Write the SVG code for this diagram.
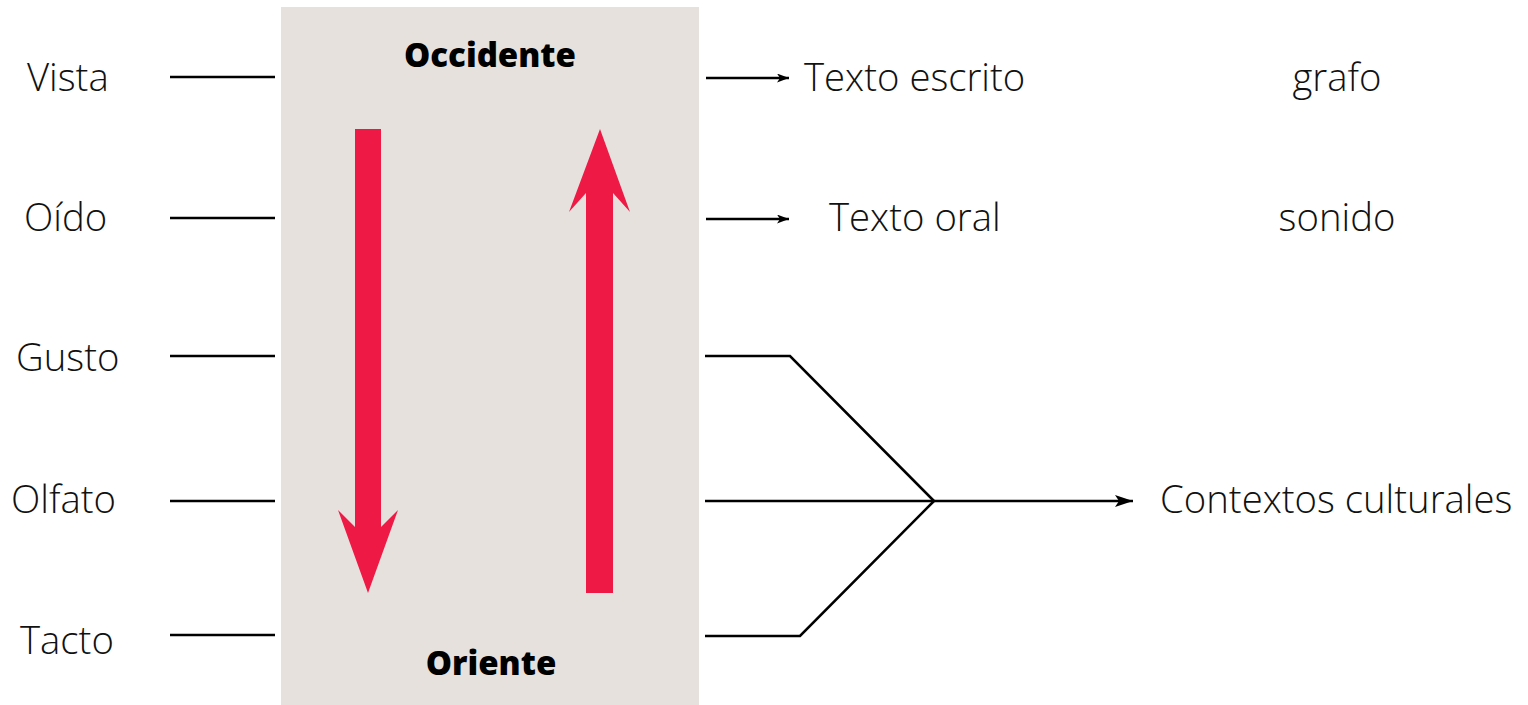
<svg xmlns="http://www.w3.org/2000/svg" width="1528" height="705" viewBox="0 0 1528 705">
<defs>
<style>
.lbl{font-family:"Open Sans","Noto Sans",sans-serif;font-weight:300;font-size:38.3px;fill:#111}
.hd{font-family:"Open Sans","Noto Sans",sans-serif;font-weight:800;font-size:33px;fill:#000}
.ln{stroke:#000;stroke-width:2.5;fill:none}
.red{fill:#EE1A45}
</style>
<marker id="ah" viewBox="0 0 12 9" refX="12" refY="4.5" markerWidth="12" markerHeight="9" markerUnits="userSpaceOnUse" orient="auto">
<path d="M0,0 L12,4.5 L0,9 L3,4.5 Z" fill="#000"/>
</marker>
<marker id="ah2" viewBox="0 0 18 12" refX="18" refY="6" markerWidth="18" markerHeight="12" markerUnits="userSpaceOnUse" orient="auto">
<path d="M0,0 L18,6 L0,12 L4,6 Z" fill="#000"/>
</marker>
</defs>
<rect width="1528" height="705" fill="#fff"/>
<g id="panel">
<rect x="281" y="7" width="418" height="698" fill="#E6E1DD"/>
<text class="hd" x="490" y="67" text-anchor="middle">Occidente</text>
<text class="hd" x="491" y="675" text-anchor="middle">Oriente</text>
<path class="red" d="M355,129 H381 V527 L398,510 L368,593 L338,510 L355,527 Z"/>
<path class="red" d="M586,593 H613 V193 L630,212 L600,129 L569,212 L586,193 Z"/>
</g>
<g id="senses">
<text class="lbl" x="27" y="91">Vista</text>
<text class="lbl" x="24" y="231">Oído</text>
<text class="lbl" x="16" y="371">Gusto</text>
<text class="lbl" x="11" y="513">Olfato</text>
<text class="lbl" x="20" y="654">Tacto</text>
</g>
<g id="outputs">
<text class="lbl" x="804" y="91">Texto escrito</text>
<text class="lbl" x="1337" y="91" text-anchor="middle">grafo</text>
<text class="lbl" x="829" y="231">Texto oral</text>
<text class="lbl" x="1337" y="231" text-anchor="middle">sonido</text>
<text class="lbl" x="1160" y="513">Contextos culturales</text>
</g>
<g id="connectors">
<line class="ln" x1="170" y1="77" x2="275" y2="77"/>
<line class="ln" x1="170" y1="218" x2="275" y2="218"/>
<line class="ln" x1="170" y1="356" x2="275" y2="356"/>
<line class="ln" x1="170" y1="501" x2="275" y2="501"/>
<line class="ln" x1="170" y1="635" x2="275" y2="635"/>
<line class="ln" x1="706" y1="78" x2="789" y2="78" marker-end="url(#ah)"/>
<line class="ln" x1="706" y1="219" x2="789" y2="219" marker-end="url(#ah)"/>
<polyline class="ln" points="705,356 790,356 934,501"/>
<polyline class="ln" points="705,636 800,636 934,501"/>
<line class="ln" x1="705" y1="501" x2="1133" y2="501" marker-end="url(#ah2)"/>
</g>
</svg>
